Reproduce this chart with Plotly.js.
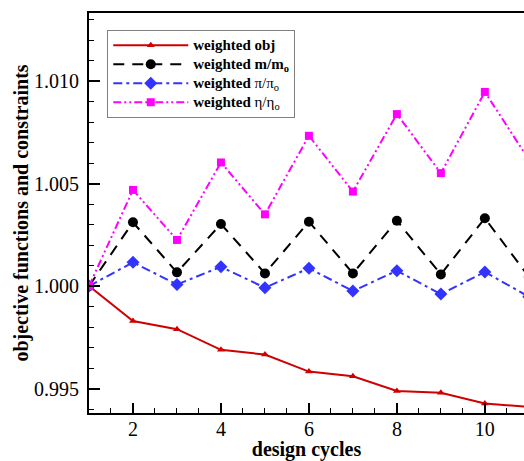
<!DOCTYPE html>
<html>
<head>
<meta charset="utf-8">
<script src="https://cdn.plot.ly/plotly-3.0.1.min.js"></script>
<style>html,body{margin:0;padding:0;background:#fff;}#chart{width:524px;height:461px;}</style>
</head>
<body>
<div id="chart"></div>
<script>
var cycles = [1, 2, 3, 4, 5, 6, 7, 8, 9, 10, 11];
var weightedObj = [1.0000, 0.99830, 0.99790, 0.99689, 0.99666, 0.99583, 0.99560, 0.99488, 0.99480, 0.99427, 0.99411];
var weightedMass = [1.0000, 1.00311, 1.00067, 1.00303, 1.00062, 1.00314, 1.00062, 1.00319, 1.00057, 1.00331, 1.00045];
var weightedPi = [1.0000, 1.00116, 1.00008, 1.00094, 0.99992, 1.00087, 0.99976, 1.00075, 0.99961, 1.00069, 0.99948];
var weightedEta = [1.0000, 1.00469, 1.00225, 1.00603, 1.00350, 1.00733, 1.00461, 1.00839, 1.00551, 1.00947, 1.00617];
var seriesNames = [
  '<b>weighted obj</b>',
  '<b>weighted m/m<sub>o</sub></b>',
  '<b>weighted</b> π/π<sub>o</sub>',
  '<b>weighted</b> η/η<sub>o</sub>'
];

var serif = '"Liberation Serif", serif';
function big(s) { return '<span style="font-size:15px">' + s + '</span>'; }
var traces = [
  {x: cycles, y: weightedObj, name: big(seriesNames[0]), mode: 'lines+markers',
   line: {color: '#d00000', width: 2, dash: 'solid'},
   marker: {symbol: 'triangle-up', size: 7, color: '#d00000'}},
  {x: cycles, y: weightedMass, name: big(seriesNames[1]), mode: 'lines+markers',
   line: {color: '#000000', width: 2, dash: '11px,8px'},
   marker: {symbol: 'circle', size: 10, color: '#000000'}},
  {x: cycles, y: weightedPi, name: big(seriesNames[2]), mode: 'lines+markers',
   line: {color: '#3333ff', width: 2, dash: '9px,4px,3px,4px'},
   marker: {symbol: 'diamond', size: 10, color: '#3333ff'}},
  {x: cycles, y: weightedEta, name: big(seriesNames[3]), mode: 'lines+markers',
   line: {color: '#ff00ff', width: 2, dash: '8px,3px,2px,3px,2px,3px'},
   marker: {symbol: 'square', size: 8, color: '#ff00ff'}}
];

var layout = {
  width: 524, height: 461,
  margin: {l: 89, r: 0, t: 13, b: 48},
  paper_bgcolor: '#fff', plot_bgcolor: '#fff',
  showlegend: true,
  font: {family: serif, color: '#000'},
  xaxis: {
    range: [1, 10.89], tick0: 0, dtick: 2,
    ticks: 'inside', ticklen: 10, tickwidth: 2, tickcolor: '#000',
    minor: {dtick: 0.5, ticks: 'inside', ticklen: 5, tickwidth: 1, tickcolor: '#000'},
    showline: true, linecolor: '#000', linewidth: 2, mirror: true,
    showgrid: false, zeroline: false,
    ticklabelstandoff: -3,
    tickfont: {family: serif, size: 20, color: '#000'},
    title: {text: '<b>design cycles</b>', font: {family: serif, size: 20, color: '#000'}, standoff: 2}
  },
  yaxis: {
    range: [0.99381, 1.01332], tick0: 0, dtick: 0.005, tickformat: '.3f',
    ticks: 'inside', ticklen: 11, tickwidth: 2, tickcolor: '#000',
    minor: {dtick: 0.001, ticks: 'inside', ticklen: 5, tickwidth: 1, tickcolor: '#000'},
    showline: true, linecolor: '#000', linewidth: 2, mirror: false,
    showgrid: false, zeroline: false,
    ticklabelstandoff: 4,
    tickfont: {family: serif, size: 20, color: '#000'},
    title: {text: '<b>objective functions and constraints</b>', font: {family: serif, size: 20, color: '#000'}, standoff: 0}
  },
  legend: {
    x: 0.042, y: 0.958, xanchor: 'left', yanchor: 'top',
    bgcolor: '#fff', bordercolor: '#808080', borderwidth: 1,
    itemwidth: 75,
    font: {family: serif, size: 12, color: '#000'},
    tracegroupgap: 0
  }
};

Plotly.newPlot('chart', traces, layout, {displayModeBar: false, staticPlot: true});
</script>
</body>
</html>
